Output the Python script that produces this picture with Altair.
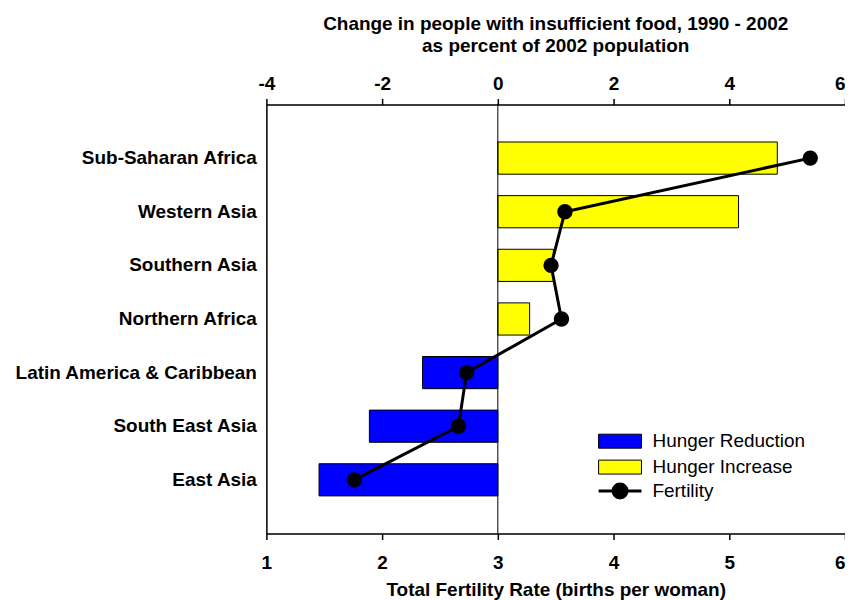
import altair as alt
import pandas as pd

regions = ["Sub-Saharan Africa", "Western Asia", "Southern Asia", "Northern Africa",
           "Latin America & Caribbean", "South East Asia", "East Asia"]
hunger_change = [4.83, 4.16, 0.96, 0.55, -1.30, -2.22, -3.09]
fertility = [5.70, 3.58, 3.46, 3.55, 2.73, 2.66, 1.76]
order = [1, 2, 3, 4, 5, 6, 7]

hunger_ticks = [-4, -2, 0, 2, 4, 6]
fert_ticks = [1, 2, 3, 4, 5, 6]

df = pd.DataFrame({"region": regions, "hunger": hunger_change,
                   "fertility": fertility, "order": order})

FONT = "Liberation Sans"
FS = 19

rect_path = "M-3.07,-1H3.07V1H-3.07Z"
line_dot_path = "M-3.07,0H3.07M1,0A1,1,0,1,1,-1,0A1,1,0,1,1,1,0"

last_right = {"condition": {"test": "datum.value == 6", "value": "right"}, "value": "center"}

yenc = alt.Y("region:N", sort=regions,
             scale=alt.Scale(paddingInner=0.4, paddingOuter=0.7),
             axis=alt.Axis(title=None, ticks=False, labelPadding=10,
                           labelFont=FONT, labelFontSize=FS, labelFontWeight="bold",
                           labelColor="black", domainColor="black", domainWidth=1.5,
                           labelLimit=400))

bars = alt.Chart(df).transform_calculate(
    kind="datum.hunger < 0 ? 'Hunger Reduction' : 'Hunger Increase'"
).mark_bar(stroke="black", strokeWidth=1).encode(
    x=alt.X("hunger:Q", scale=alt.Scale(domain=[-4, 6], nice=False),
            axis=alt.Axis(orient="top", values=hunger_ticks, title=None, grid=False,
                          labelExpr="datum.value + ''", labelFlush=False,
                          labelAlign=last_right,
                          labelFont=FONT, labelFontSize=FS, labelFontWeight="bold",
                          labelColor="black", tickColor="black", domainColor="black",
                          domainWidth=1.5, tickWidth=1.5, tickSize=6, labelPadding=5)),
    x2=alt.X2(datum=0),
    y=yenc,
    fill=alt.Fill("kind:N",
                  scale=alt.Scale(domain=["Hunger Reduction", "Hunger Increase"],
                                  range=["#0000FF", "#FFFF00"]),
                  legend=alt.Legend(orient="none", legendX=345, legendY=328, title=None,
                                    labelFont=FONT, labelFontSize=FS, labelColor="black",
                                    symbolType=rect_path, symbolSize=196,
                                    symbolStrokeColor="black", symbolStrokeWidth=1,
                                    symbolOpacity=1,
                                    rowPadding=6, labelOffset=23, padding=0)),
)

zero = alt.Chart(pd.DataFrame({"z": [0]})).mark_rule(color="black", strokeWidth=1).encode(
    x=alt.X("z:Q", scale=alt.Scale(domain=[-4, 6], nice=False))
)

fert_x = alt.X("fertility:Q", scale=alt.Scale(domain=[1, 6], nice=False),
               axis=alt.Axis(orient="bottom", values=fert_ticks,
                             title="Total Fertility Rate (births per woman)", grid=False,
                             labelExpr="datum.value + ''", labelFlush=False,
                             labelAlign=last_right,
                             labelFont=FONT, labelFontSize=FS, labelFontWeight="bold",
                             labelColor="black", tickColor="black", domainColor="black",
                             domainWidth=1.5, tickWidth=1.5, tickSize=6, labelPadding=14,
                             titleFont=FONT, titleFontSize=FS, titleFontWeight="bold",
                             titleColor="black", titlePadding=8))

stroke_enc = alt.Stroke("series:N", scale=alt.Scale(domain=["Fertility"], range=["black"]),
                        legend=alt.Legend(orient="none", legendX=345, legendY=378, title=None,
                                          labelFont=FONT, labelFontSize=FS, labelColor="black",
                                          symbolType=line_dot_path, symbolSize=196,
                                          symbolFillColor="black", symbolStrokeWidth=3,
                                          symbolOpacity=1, labelOffset=23, padding=0))

line = alt.Chart(df).transform_calculate(series="'Fertility'").mark_line(
    strokeWidth=3).encode(
    x=fert_x, y=alt.Y("region:N", sort=regions), order="order:Q", stroke=stroke_enc)

points = alt.Chart(df).transform_calculate(series="'Fertility'").mark_point(
    filled=True, fill="black", size=180, opacity=1).encode(
    x=alt.X("fertility:Q"), y=alt.Y("region:N", sort=regions), stroke=stroke_enc)

top = alt.layer(bars, zero)
bottom = alt.layer(line, points)

chart = alt.layer(top, bottom).resolve_scale(x="independent").properties(
    width=580, height=430,
    autosize=alt.AutoSizeParams(type="none"),
    padding={"left": 259, "top": 96, "right": 0, "bottom": 66},
    title=alt.TitleParams(
        ["Change in people with insufficient food, 1990 - 2002", "as percent of 2002 population"],
        font=FONT, fontSize=FS, fontWeight="bold", color="black", anchor="middle",
        frame="group", lineHeight=22, offset=19),
).configure_view(stroke="black", strokeWidth=1.5).configure(background="white")

chart.save("out.html", embed_options={"renderer": "svg", "actions": False})
